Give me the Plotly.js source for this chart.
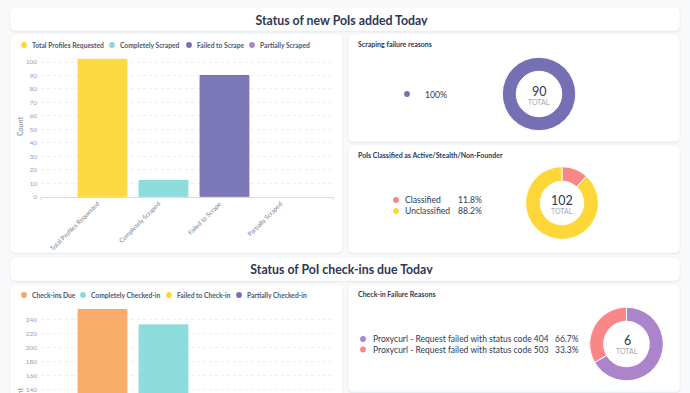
<!DOCTYPE html>
<html>
<head>
<meta charset="utf-8">
<script src="https://cdn.plot.ly/plotly-3.0.1.min.js"></script>
<style>
html,body{margin:0;padding:0;background:#f8f9fb;}
#chart{width:690px;height:393px;}
</style>
</head>
<body>
<div id="chart"></div>
<script>
// ---------- DATA ----------
const sectionTitles = ['Status of new PoIs added Today', 'Status of PoI check-ins due Today'];

const scrapeCategories = ['Total Profiles Requested', 'Completely Scraped', 'Failed to Scrape', 'Partially Scraped'];
const scrapeCounts = [102, 12, 90, 0];
const scrapeColors = ['#FDD738', '#88DADA', '#7570B3', '#AC84CB'];

const checkinCategories = ['Check-ins Due', 'Completely Checked-in', 'Failed to Check-in', 'Partially Checked-in'];
const checkinCounts = [254, 232, 6, 16];
const checkinColors = ['#F9A862', '#88DADA', '#FDD738', '#7570B3'];

const scrapeFailTitle = 'Scraping failure reasons';
const scrapeFailLabels = [''];
const scrapeFailValues = [90];
const scrapeFailColors = ['#7570B3'];

const classTitle = 'PoIs Classified as Active/Stealth/Non-Founder';
const classLabels = ['Classified', 'Unclassified'];
const classValues = [12, 90];
const classColors = ['#F98788', '#FDD738'];

const checkFailTitle = 'Check-in Failure Reasons';
const checkFailLabels = ['Proxycurl - Request failed with status code 404', 'Proxycurl - Request failed with status code 503'];
const checkFailValues = [4, 2];
const checkFailColors = ['#AC84CB', '#F98788'];

// ---------- HELPERS ----------
const W = 690, H = 393;
const px = x => x / W;
const py = y => 1 - y / H;
const NAVY = '#2e3756';
const GRAY = '#a3a9b7';
const FONT = 'Lato, "Open Sans", sans-serif';

function rr(x0, y0, x1, y1, r) {
  const X0 = px(x0), X1 = px(x1), Y0 = py(y0), Y1 = py(y1);
  const rx = r / W, ry = r / H;
  return `M${X0 + rx},${Y0} L${X1 - rx},${Y0} Q${X1},${Y0} ${X1},${Y0 - ry} ` +
         `L${X1},${Y1 + ry} Q${X1},${Y1} ${X1 - rx},${Y1} L${X0 + rx},${Y1} ` +
         `Q${X0},${Y1} ${X0},${Y1 + ry} L${X0},${Y0 - ry} Q${X0},${Y0} ${X0 + rx},${Y0} Z`;
}

const shapes = [];
const annotations = [];

const cards = [
  [10, 7, 680, 31], [10, 34, 343, 253], [348, 34, 680, 142], [348, 145, 680, 253],
  [10, 257, 680, 281], [10, 284, 343, 405], [348, 284, 680, 392]
];
cards.forEach(c => {
  shapes.push({type: 'path', xref: 'paper', yref: 'paper', layer: 'below',
    path: rr(c[0] - 0.5, c[1] + 0.5, c[2] + 0.5, c[3] + 1.5, 6),
    fillcolor: '#eaedf1', line: {width: 0}});
  shapes.push({type: 'path', xref: 'paper', yref: 'paper', layer: 'below',
    path: rr(c[0], c[1], c[2], c[3], 6),
    fillcolor: '#ffffff', line: {color: '#eef0f3', width: 0.6}});
});

function dot(x, y, color, r) {
  shapes.push({type: 'circle', xref: 'paper', yref: 'paper', xsizemode: 'pixel', ysizemode: 'pixel',
    xanchor: px(x), yanchor: py(y), x0: -r, x1: r, y0: -r, y1: r,
    fillcolor: color, line: {width: 0}, layer: 'above'});
}
function txt(x, y, text, size, color, opts) {
  annotations.push(Object.assign({xref: 'paper', yref: 'paper', x: px(x), y: py(y), text: text,
    showarrow: false, xanchor: 'left', yanchor: 'middle',
    font: {family: FONT, size: size, color: color}}, opts || {}));
}
function pct(v, total) {
  const p = v / total * 100;
  return (Math.abs(p - 100) < 1e-9 ? '100' : p.toFixed(1)) + '%';
}

// bar legends
const legendTopX = [24, 112, 189, 252];
scrapeCategories.forEach((c, i) => {
  dot(legendTopX[i], 45, scrapeColors[i], 2.9);
  txt(legendTopX[i] + 6, 45.3, '<b>' + c + '</b>', 6.7, '#4c5773');
});
const legendBotX = [24, 83, 169, 239];
checkinCategories.forEach((c, i) => {
  dot(legendBotX[i], 295, checkinColors[i], 2.9);
  txt(legendBotX[i] + 6, 295.3, '<b>' + c + '</b>', 6.7, '#4c5773');
});

// y axis titles
txt(20, 127, '<b>Count</b>', 7, '#959bab', {xanchor: 'center', textangle: -90});
txt(20, 398, '<b>Count</b>', 7, '#959bab', {xanchor: 'center', textangle: -90});

// axis end ticks top bar
[41, 333].forEach(x => shapes.push({type: 'line', xref: 'paper', yref: 'paper',
  x0: px(x), x1: px(x), y0: py(196.8), y1: py(200), line: {color: '#d9dbe3', width: 1}}));

// card titles
txt(356, 44, '<b>' + scrapeFailTitle + '</b>', 7, NAVY);
txt(356, 155, '<b>' + classTitle + '</b>', 7, NAVY);
txt(356, 294, '<b>' + checkFailTitle + '</b>', 7, NAVY);

// pie legends
const sfTotal = scrapeFailValues.reduce((a, b) => a + b, 0);
scrapeFailLabels.forEach((l, i) => {
  dot(407, 94, scrapeFailColors[i], 2.9);
  if (l) txt(416, 94.3, l, 8.7, NAVY);
  txt(422.5, 94.3, pct(scrapeFailValues[i], sfTotal), 8.7, NAVY);
});
const clTotal = classValues.reduce((a, b) => a + b, 0);
classLabels.forEach((l, i) => {
  const y = 200 + i * 11;
  dot(396, y, classColors[i], 2.9);
  txt(402.5, y + 0.3, l, 8.6, NAVY);
  txt(455.5, y + 0.3, pct(classValues[i], clTotal), 8.6, NAVY);
});
const cfTotal = checkFailValues.reduce((a, b) => a + b, 0);
checkFailLabels.forEach((l, i) => {
  const y = 339 + i * 10.5;
  dot(363, y, checkFailColors[i], 2.9);
  txt(370.5, y + 0.3, l, 8.5, NAVY);
  txt(552.5, y + 0.3, pct(checkFailValues[i], cfTotal), 8.5, NAVY);
});

// donut centers
function center(x, y, total) {
  txt(x, y - 1.8, String(total), 12.5, NAVY, {xanchor: 'center'});
  txt(x, y + 8.5, 'TOTAL', 7, GRAY, {xanchor: 'center'});
}
center(539, 93, sfTotal);
center(562, 202, clTotal);
center(627, 342, cfTotal);

// ---------- TRACES ----------
const traces = [];
const rgba = (hex, a) => {
  const n = parseInt(hex.slice(1), 16);
  return `rgba(${n >> 16},${(n >> 8) & 255},${n & 255},${a})`;
};
traces.push({type: 'bar', x: scrapeCategories, y: scrapeCounts, xaxis: 'x', yaxis: 'y',
  width: 0.8, hoverinfo: 'skip',
  marker: {color: scrapeColors.map(c => rgba(c, 0.95)),
    line: {color: scrapeColors, width: scrapeCounts.map(v => v > 0 ? 1 : 0)}}});
traces.push({type: 'bar', x: checkinCategories, y: checkinCounts, xaxis: 'x2', yaxis: 'y2',
  width: 0.8, hoverinfo: 'skip',
  marker: {color: checkinColors.map(c => rgba(c, 0.95)),
    line: {color: checkinColors, width: checkinCounts.map(v => v > 0 ? 1 : 0)}}});

// section titles as clipped text (cards clip descenders)
traces.push({type: 'scatter', mode: 'text', x: [341.5], y: [22.4], text: ['<b>' + sectionTitles[0] + '</b>'],
  xaxis: 'x3', yaxis: 'y3', hoverinfo: 'skip', cliponaxis: true,
  textfont: {family: FONT, size: 12.3, color: NAVY}, textposition: 'middle center'});
traces.push({type: 'scatter', mode: 'text', x: [341.5], y: [270.8], text: ['<b>' + sectionTitles[1] + '</b>'],
  xaxis: 'x4', yaxis: 'y4', hoverinfo: 'skip', cliponaxis: true,
  textfont: {family: FONT, size: 12.3, color: NAVY}, textposition: 'middle center'});

function pie(labels, values, colors, cx, cy, r, hole) {
  traces.push({type: 'pie', labels: labels.map((l, i) => l || ('s' + i)), values: values, sort: false,
    direction: 'clockwise', rotation: 0, hole: hole, textinfo: 'none', hoverinfo: 'skip',
    marker: {colors: colors, line: {color: '#ffffff', width: 1}},
    domain: {x: [px(cx - r), px(cx + r)], y: [py(cy + r), py(cy - r)]}});
}
pie(scrapeFailLabels, scrapeFailValues, scrapeFailColors, 539, 94, 36.7, 0.62);
pie(classLabels, classValues, classColors, 562, 203, 36.3, 0.6);
pie(checkFailLabels, checkFailValues, checkFailColors, 626.5, 344, 36.8, 0.62);

// ---------- LAYOUT ----------
const topY0 = 196.7, topPxPerUnit = 1.347;
const botRef = 319.3, botPxPerUnit = 0.7;
const catRange = [-1.008, 3.779];
const tickFont = {family: FONT, size: 6.5, color: '#9aa0af'};

const layout = {
  width: W, height: H, margin: {l: 0, r: 0, t: 0, b: 0},
  paper_bgcolor: '#f8f9fb', plot_bgcolor: 'rgba(0,0,0,0)',
  showlegend: false, font: {family: FONT},
  shapes: shapes, annotations: annotations,
  xaxis: {domain: [px(41), px(333)], anchor: 'y', type: 'category', range: catRange,
    showgrid: false, showline: true, linecolor: '#d9dbe3', linewidth: 1,
    tickangle: -45, ticks: '', ticklabelshift: -5, ticklabelstandoff: 0,
    tickfont: {family: FONT, size: 6.3, color: '#7c8396'}, fixedrange: true},
  yaxis: {domain: [py(topY0), py(55)], anchor: 'x', range: [0, (topY0 - 55) / topPxPerUnit],
    dtick: 10, tick0: 0, showgrid: true, gridcolor: '#eceef2', griddash: '3px,3px', gridwidth: 1,
    zeroline: false, showline: false, ticks: '', ticklabelstandoff: 3, tickfont: tickFont, fixedrange: true},
  xaxis2: {domain: [px(41), px(333)], anchor: 'y2', type: 'category', range: catRange,
    showgrid: false, showline: false, showticklabels: false, ticks: '', fixedrange: true},
  yaxis2: {domain: [0, py(307)], anchor: 'x2',
    range: [240 - (H - botRef) / botPxPerUnit, 240 + (botRef - 307) / botPxPerUnit],
    dtick: 20, tick0: 0, showgrid: true, gridcolor: '#eceef2', griddash: '3px,3px', gridwidth: 1,
    zeroline: false, showline: false, ticks: '', ticklabelstandoff: 3, tickfont: tickFont, fixedrange: true},
  xaxis3: {domain: [px(10), px(680)], anchor: 'y3', range: [10, 680], visible: false, fixedrange: true},
  yaxis3: {domain: [py(25.6), py(7)], anchor: 'x3', range: [25.6, 7], visible: false, fixedrange: true},
  xaxis4: {domain: [px(10), px(680)], anchor: 'y4', range: [10, 680], visible: false, fixedrange: true},
  yaxis4: {domain: [py(274), py(257)], anchor: 'x4', range: [274, 257], visible: false, fixedrange: true}
};

Plotly.newPlot('chart', traces, layout, {displayModeBar: false, staticPlot: true});
</script>
</body>
</html>
